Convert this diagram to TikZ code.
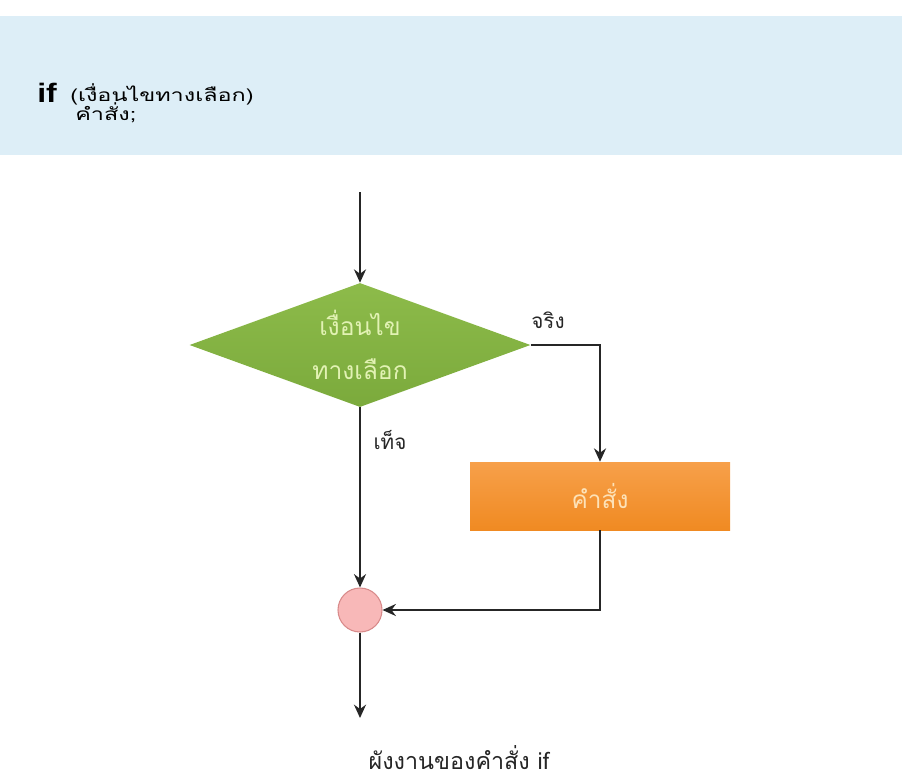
\documentclass[tikz,border=0pt]{standalone}
\usepackage{fontspec}
\setmainfont{Liberation Sans}
\newfontfamily\thaifont[Script=Thai]{Loma}
\newfontfamily\thaiwide[Script=Thai,FakeStretch=1.35]{Loma}
\newfontfamily\ifwide[FakeStretch=1.2]{Liberation Sans}
\usetikzlibrary{shapes.geometric,arrows.meta}
\definecolor{bandblue}{HTML}{DDEEF7}
\definecolor{dgreen}{HTML}{7BAA3C}
\definecolor{dgreenlt}{HTML}{8DBB4A}
\definecolor{dtext}{HTML}{E2F2B4}
\definecolor{boxor}{HTML}{F08A22}
\definecolor{boxorlt}{HTML}{F7A04A}
\definecolor{otext}{HTML}{FDE2B8}
\definecolor{pinkfill}{HTML}{F8B8B8}
\definecolor{pinkline}{HTML}{D88A8A}
\tikzset{
  conn/.style={draw=black!85, line width=1.6pt},
  arr/.style={conn, -{Stealth[length=10pt,width=9pt]}},
  lbl/.style={font=\thaifont\fontsize{15.5}{18}\selectfont, text=black!85},
}
\begin{document}
\begin{tikzpicture}[x=0.75pt,y=-0.75pt]
\useasboundingbox (0,0) rectangle (902,779);
% faint top artifact
\fill[black!10] (545,18) arc (180:0:8) -- cycle;
% band
\fill[bandblue] (0,16) rectangle (902,155);
\node[anchor=base west, inner sep=0, font=\ifwide\bfseries\fontsize{20}{22}\selectfont] (kif) at (37,102) {if};
\node[anchor=base west, inner sep=0, font=\thaiwide\fontsize{13}{15}\selectfont] (cond) at (70,101) {(เงื่อนไขทางเลือก)};
\node[anchor=base west, inner sep=0, font=\thaiwide\fontsize{13}{15}\selectfont] (stm) at (75,120) {คำสั่ง;};
% shapes
\node[diamond, aspect=2.75, minimum width=341pt*0.75, minimum height=124pt*0.75, inner sep=0,
      top color=dgreenlt, bottom color=dgreen, draw=none,
      font=\thaifont\fontsize{18.5}{33}\selectfont, text=dtext, align=center] (dec) at (360,345)
      {เงื่อนไข\\ทางเลือก};
\node[rectangle, minimum width=260*0.75pt, minimum height=68*0.75pt, top color=boxorlt, bottom color=boxor,
      draw=none, font=\thaifont\fontsize{18.3}{20}\selectfont, text=otext] (act) at (600,496) {คำสั่ง};
\node[circle, minimum size=44*0.75pt, inner sep=0, fill=pinkfill, draw=pinkline, line width=0.8pt] (join) at (360,610) {};
\coordinate (start) at (360,192);
\coordinate (endp) at (360,718);
\coordinate (tr) at (600,345);
\coordinate (br) at (600,610);
% connectors
\draw[arr] (start) -- (dec.north);
\draw[arr] (dec.east) -- (tr) -- (act.north);
\draw[arr] (act.south) -- (br) -- (join.east);
\draw[arr] (dec.south) -- (join.north);
\draw[arr] (join.south) -- (endp);
% labels
\node[lbl, anchor=center] (ltrue) at (548,320) {จริง};
\node[lbl, anchor=center] (lfalse) at (390,440) {เท็จ};
\node[lbl, inner sep=0, anchor=base, font=\thaifont\fontsize{17.5}{20}\selectfont] (cap) at (459,769) {ผังงานของคำสั่ง if};
\end{tikzpicture}
\end{document}
